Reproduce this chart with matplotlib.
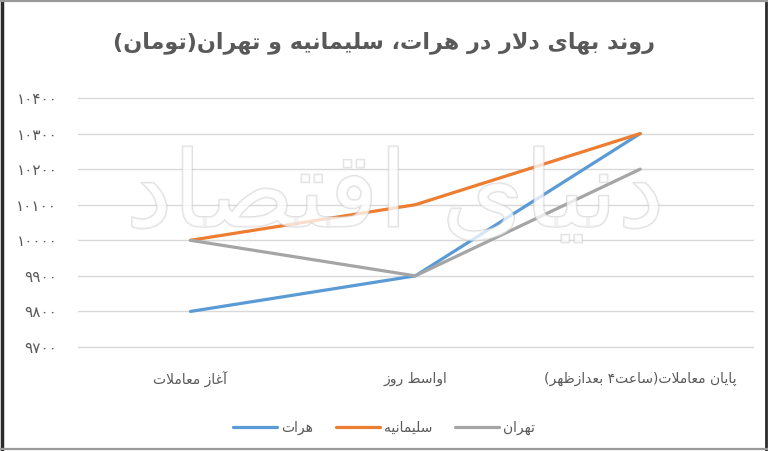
import matplotlib
matplotlib.use("Agg")
import matplotlib.pyplot as plt
import matplotlib.patheffects as pe
from matplotlib.lines import Line2D
from matplotlib.ticker import FuncFormatter

# chart data
categories = ["آغاز معاملات", "اواسط روز", "پایان معاملات(ساعت۴ بعدازظهر)"]
series_names = ["هرات", "سلیمانیه", "تهران"]
herat = [9800, 9900, 10300]
sulaymaniyah = [10000, 10100, 10300]
tehran = [10000, 9900, 10200]
y_ticks = [9700, 9800, 9900, 10000, 10100, 10200, 10300, 10400]
title = "روند بهای دلار در هرات، سلیمانیه و تهران(تومان)"
watermark = "دنیای اقتصاد"

colors = ["#5B9BD5", "#ED7D31", "#A5A5A5"]
text_gray = "#595959"

# minimal Arabic/Persian shaping (matplotlib has no bidi / joining support)
FORMS = {
    "ا": ("\uFE8D", "\uFE8E", None, None),
    "آ": ("\uFE81", "\uFE82", None, None),
    "ب": ("\uFE8F", "\uFE90", "\uFE91", "\uFE92"),
    "پ": ("\uFB56", "\uFB57", "\uFB58", "\uFB59"),
    "ت": ("\uFE95", "\uFE96", "\uFE97", "\uFE98"),
    "د": ("\uFEA9", "\uFEAA", None, None),
    "ر": ("\uFEAD", "\uFEAE", None, None),
    "ز": ("\uFEAF", "\uFEB0", None, None),
    "س": ("\uFEB1", "\uFEB2", "\uFEB3", "\uFEB4"),
    "ص": ("\uFEB9", "\uFEBA", "\uFEBB", "\uFEBC"),
    "ط": ("\uFEC1", "\uFEC2", "\uFEC3", "\uFEC4"),
    "ظ": ("\uFEC5", "\uFEC6", "\uFEC7", "\uFEC8"),
    "ع": ("\uFEC9", "\uFECA", "\uFECB", "\uFECC"),
    "غ": ("\uFECD", "\uFECE", "\uFECF", "\uFED0"),
    "ق": ("\uFED5", "\uFED6", "\uFED7", "\uFED8"),
    "ل": ("\uFEDD", "\uFEDE", "\uFEDF", "\uFEE0"),
    "م": ("\uFEE1", "\uFEE2", "\uFEE3", "\uFEE4"),
    "ن": ("\uFEE5", "\uFEE6", "\uFEE7", "\uFEE8"),
    "ه": ("\uFEE9", "\uFEEA", "\uFEEB", "\uFEEC"),
    "و": ("\uFEED", "\uFEEE", None, None),
    "ی": ("\uFBFC", "\uFBFD", "\uFBFE", "\uFBFF"),
}
LAM_ALEF = {"ا": ("\uFEFB", "\uFEFC"), "آ": ("\uFEF5", "\uFEF6")}


def joins_next(c):
    return c in FORMS and FORMS[c][2] is not None


def rtl(text):
    out = []
    i = 0
    while i < len(text):
        c = text[i]
        prev_joins = i > 0 and joins_next(text[i - 1])
        if c == "ل" and i + 1 < len(text) and text[i + 1] in LAM_ALEF:
            iso, fin = LAM_ALEF[text[i + 1]]
            out.append(fin if prev_joins else iso)
            i += 2
            continue
        if c in FORMS:
            nxt = text[i + 1] if i + 1 < len(text) else None
            next_joins = joins_next(c) and nxt in FORMS
            iso, fin, ini, med = FORMS[c]
            if prev_joins and next_joins:
                out.append(med)
            elif prev_joins:
                out.append(fin)
            elif next_joins:
                out.append(ini)
            else:
                out.append(iso)
        else:
            out.append(c)
        i += 1
    return "".join(out)[::-1].translate(str.maketrans("()", ")("))


PERSIAN_DIGITS = str.maketrans("0123456789", "۰۱۲۳۴۵۶۷۸۹")

plt.rcParams["font.family"] = ["DejaVu Sans"]

fig = plt.figure(figsize=(7.68, 4.51), dpi=100)
ax = fig.add_axes([0.1016, 0.2306, 0.8784, 0.5521])

x = range(len(categories))
for vals, name, col in zip([herat, sulaymaniyah, tehran], series_names, colors):
    ax.plot(x, vals, color=col, lw=2.3, solid_capstyle="round", label=rtl(name), zorder=3)

ax.set_xlim(-0.5, 2.5)
ax.set_ylim(9700, 10400)
ax.set_yticks(y_ticks)
ax.yaxis.set_major_formatter(FuncFormatter(lambda v, p: str(int(v)).translate(PERSIAN_DIGITS)))
ax.set_xticks(list(x))
ax.set_xticklabels([rtl(c) for c in categories])
ax.tick_params(axis="both", length=0, colors=text_gray)
ax.tick_params(axis="y", pad=15, labelsize=11)
ax.tick_params(axis="x", pad=18, labelsize=10)
ax.grid(axis="y", color="#D9D9D9", lw=1)
ax.set_axisbelow(True)
for gl in ax.get_ygridlines():
    gl.set_clip_on(False)
for s in ax.spines.values():
    s.set_visible(False)

# faint watermark of the source
ax.text(0.47, 0.6, rtl(watermark), transform=ax.transAxes, ha="center", va="center",
        fontsize=76, color="white", alpha=0.5, zorder=4,
        path_effects=[pe.withStroke(linewidth=1.3, foreground="#C0C0C0")])

fig.text(0.5, 0.905, rtl(title), ha="center", va="center", fontsize=16,
         fontweight="bold", color=text_gray)

fig.legend(loc="center", bbox_to_anchor=(0.5, 0.052), ncol=3, frameon=False,
           fontsize=10, labelcolor=text_gray, handlelength=3.2, handletextpad=0.3,
           columnspacing=1.6)

# image frame
fig.add_artist(Line2D([0.002, 0.002], [0, 1], color="#2b2b2b", lw=2.5, transform=fig.transFigure))
fig.add_artist(Line2D([0.997, 0.997], [0, 1], color="#2b2b2b", lw=2.0, transform=fig.transFigure))
fig.add_artist(Line2D([0, 1], [0.997, 0.997], color="#9a9a9a", lw=1.6, transform=fig.transFigure))
fig.add_artist(Line2D([0, 1], [0.005, 0.005], color="#9a9a9a", lw=1.6, transform=fig.transFigure))

fig.savefig("out.png", dpi=100)
